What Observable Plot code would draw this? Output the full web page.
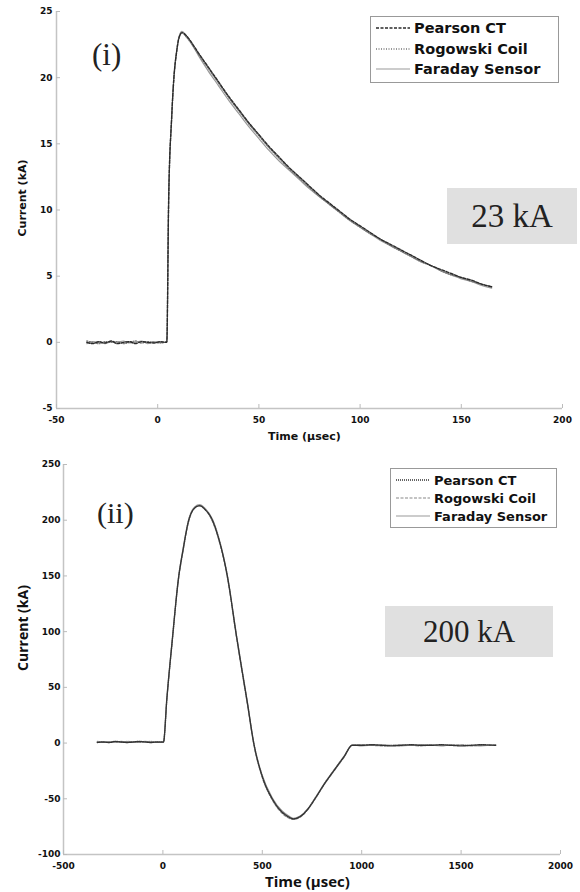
<!DOCTYPE html>
<html><head><meta charset="utf-8">
<script src="https://cdn.jsdelivr.net/npm/d3@7"></script>
<script src="https://cdn.jsdelivr.net/npm/@observablehq/plot@0.6"></script>
<style>
body{margin:0;background:#fff;}
#wrap{position:relative;width:580px;height:892px;overflow:hidden;font-family:"DejaVu Sans",sans-serif;}
.panel{position:absolute;left:0;}
.ov{position:absolute;white-space:nowrap;color:#111;}
.legend{position:absolute;border:1px solid #999;background:#fff;}
.row{position:absolute;left:0;display:flex;align-items:center;font-weight:bold;color:#111;}
.row svg{margin-right:4px;}
.box{position:absolute;background:#e0e0e0;display:flex;align-items:center;justify-content:center;font-family:"Liberation Serif",serif;color:#222;}
.tag{position:absolute;font-family:"Liberation Serif",serif;color:#222;}
</style></head><body><div id="wrap"></div>
<script>
// ---------- Panel (i) : 23 kA ----------
const xTicks1 = [-50, 0, 50, 100, 150, 200];
const yTicks1 = [-5, 0, 5, 10, 15, 20, 25];
const t1 = [-35,-32,-29,-26,-23,-20,-17,-14,-11,-8,-5,-2,1,4.5,5.4,6.9,8,9.4,10.5,12,14,17,20,25,30,35,40,45,50,55,60,65,70,75,80,85,90,95,100,105,110,115,120,125,130,135,140,145,150,155,160,165];
const pearson1 = [0.0,-0.1,0.05,-0.05,0.1,-0.1,0.0,0.05,-0.1,0.05,0.0,-0.05,0.05,0.0,10.7,17.0,20.0,22.0,23.0,23.4,23.2,22.6,21.9,20.8,19.7,18.6,17.6,16.6,15.7,14.8,14.0,13.2,12.5,11.8,11.1,10.5,9.9,9.3,8.8,8.3,7.8,7.4,7.0,6.6,6.2,5.8,5.5,5.2,4.9,4.7,4.4,4.2];
const rogowski1 = [0.1,0.0,-0.1,0.05,0.0,0.05,-0.1,0.0,0.1,-0.05,0.05,0.0,-0.05,0.05,10.5,16.9,19.9,22.0,23.0,23.4,23.1,22.5,21.8,20.7,19.6,18.5,17.5,16.5,15.6,14.7,13.9,13.1,12.4,11.7,11.0,10.4,9.8,9.2,8.7,8.2,7.8,7.3,6.9,6.5,6.1,5.8,5.4,5.1,4.9,4.6,4.4,4.2];
const faraday1 = [-0.1,0.05,0.0,-0.1,0.05,0.0,0.1,-0.05,0.0,0.1,-0.1,0.05,0.0,0.0,10.6,17.0,20.1,22.1,23.1,23.5,23.2,22.5,21.7,20.5,19.4,18.3,17.3,16.3,15.4,14.5,13.7,13.0,12.3,11.6,11.0,10.4,9.8,9.2,8.7,8.2,7.7,7.3,6.9,6.5,6.1,5.8,5.4,5.1,4.8,4.6,4.3,4.1];

// ---------- Panel (ii) : 200 kA ----------
const xTicks2 = [-500, 0, 500, 1000, 1500, 2000];
const yTicks2 = [-100, -50, 0, 50, 100, 150, 200, 250];
const t2 = [-330,-300,-270,-240,-210,-180,-150,-120,-90,-60,-30,0,3,20,47,80,100,130,160,185,210,249,280,324,371,400,425,457,500,550,600,630,657,690,730,770,809,869,910,953,1000,1050,1100,1150,1200,1250,1300,1350,1400,1450,1500,1550,1600,1674];
const pearson2 = [0.5,1,0.5,1.5,1,0.5,1,1.5,1,0.5,1,1,1,40,92,150,172,200,211,213,210,200,184,150,95,63,36,0,-30,-50,-62,-66,-68,-66,-59,-48.5,-37.5,-22.5,-12.5,-2,-2,-1.5,-2,-2.5,-2,-1.5,-2,-2,-1.5,-2,-2.5,-2,-1.5,-2];
const rogowski2 = [1,0.5,1,1,0.5,1.5,1,0.5,1,1.5,0.5,1,1,39,91,149,171,199,211,213,210,199,183,149,94,62,35,-1,-31,-51,-63,-67,-68.5,-66.5,-59.5,-49,-38,-23,-13,-2,-1.5,-2,-2.5,-2,-1.5,-2,-2.5,-1.5,-2,-2,-1.5,-2.5,-2,-2];
const faraday2 = [1.5,1,1,0.5,1.5,1,0.5,1,1.5,1,1,0.5,1,41,93,151,173,201,212,214,211,201,185,151,96,64,37,0,-29,-49,-61,-65,-67.5,-65.5,-58.5,-48,-37,-22,-12,-1.5,-2.5,-2,-1.5,-2,-2.5,-2,-1.5,-2,-2.5,-1.5,-2,-2,-2.5,-1.5];

const series1 = [
  {name:"Faraday Sensor", v:faraday1, stroke:"#9a9a9a", dash:null, w:1.2},
  {name:"Rogowski Coil", v:rogowski1, stroke:"#777", dash:"1,1.5", w:1.3},
  {name:"Pearson CT", v:pearson1, stroke:"#2a2a2a", dash:"3,1.5", w:1.4}
];
const series2 = [
  {name:"Faraday Sensor", v:faraday2, stroke:"#9a9a9a", dash:null, w:1.2},
  {name:"Rogowski Coil", v:rogowski2, stroke:"#888", dash:"3,1.5", w:1.2},
  {name:"Pearson CT", v:pearson2, stroke:"#333", dash:"1,1", w:1.4}
];

const fmt = d => String(d);
const wrap = document.getElementById("wrap");

function panel(top, t, series, xd, yd, xt, yt, m){
  const marks = [
    Plot.ruleX([xd[0]], {stroke:"#c4c4c4", strokeWidth:1.5}),
    Plot.ruleY([yd[0]], {stroke:"#c4c4c4", strokeWidth:1.5}),
    Plot.axisX(xt, {tickSize:-4, tickPadding:12, tickFormat:fmt, stroke:"#bbb", fill:"#111", label:null, fontSize:9, fontWeight:"bold"}),
    Plot.axisY(yt, {tickSize:-4, tickPadding:m.yPad, tickFormat:fmt, stroke:"#bbb", fill:"#111", label:null, fontSize:9, fontWeight:"bold"})
  ];
  for (const s of series) {
    const data = t.map((x,i)=>({x, y:s.v[i]}));
    marks.push(Plot.line(data, {x:"x", y:"y", stroke:s.stroke, strokeWidth:s.w, strokeDasharray:s.dash, curve:"monotone-x"}));
  }
  const svg = Plot.plot({
    width:580, height:446,
    marginLeft:m.l, marginRight:m.r, marginTop:m.t, marginBottom:m.b,
    x:{domain:xd}, y:{domain:yd},
    style:{fontFamily:"DejaVu Sans", fontSize:"9px", background:"transparent", overflow:"visible"},
    marks
  });
  svg.classList.add("panel");
  svg.style.top = top + "px";
  wrap.appendChild(svg);
}

panel(0, t1, series1, [-50,200], [-5,25], xTicks1, yTicks1, {l:56, r:18, t:11, b:38, yPad:8});
panel(446, t2, series2, [-500,2000], [-100,250], xTicks2, yTicks2, {l:63, r:20, t:18, b:38, yPad:7});

function addDiv(cls, css, html){
  const d = document.createElement("div");
  d.className = cls; d.style.cssText = css; d.innerHTML = html; wrap.appendChild(d); return d;
}
// axis titles
addDiv("ov", "left:268px;top:430px;font-size:11px;font-weight:bold;", "Time (μsec)");
addDiv("ov", "top:198px;left:22px;font-size:11px;font-weight:bold;transform:translate(-50%,-50%) rotate(-90deg);", "Current (kA)");
addDiv("ov", "left:265px;top:871px;font-size:15px;font-weight:bold;font-family:'Open Sans',sans-serif;", "Time (μsec)");
addDiv("ov", "top:628px;left:22px;font-size:14px;font-weight:bold;font-family:'Open Sans',sans-serif;transform:translate(-50%,-50%) rotate(-90deg);", "Current (kA)");

// panel tags and boxes
addDiv("tag", "left:92px;top:37px;font-size:31px;", "(i)");
addDiv("tag", "left:97px;top:496px;font-size:30px;", "(ii)");
addDiv("box", "left:447px;top:188px;width:130px;height:56px;font-size:33px;", "23 kA");
addDiv("box", "left:385px;top:606px;width:168px;height:51px;font-size:31px;", "200 kA");

// legends
function legend(left, top, w, h, rows, fs, lineW){
  const L = addDiv("legend", `left:${left}px;top:${top}px;width:${w}px;height:${h}px;`, "");
  rows.forEach(r=>{
    const row = document.createElement("div");
    row.className = "row";
    row.style.cssText = `left:5px;top:${r.y - top - 10}px;height:20px;font-size:${fs}px;`;
    row.innerHTML = `<svg width="${lineW}" height="6"><line x1="0" x2="${lineW}" y1="3" y2="3" stroke="${r.s.stroke}" stroke-width="${r.s.w}" ${r.s.dash?`stroke-dasharray="${r.s.dash}"`:""}/></svg><span>${r.s.name}</span>`;
    L.appendChild(row);
  });
}
legend(370, 16, 187, 65, [{y:27, s:series1[2]}, {y:48, s:series1[1]}, {y:68, s:series1[0]}], 14.5, 34);
legend(390, 468, 165, 58, [{y:479, s:series2[2]}, {y:497, s:series2[1]}, {y:515, s:series2[0]}], 13, 34);
</script></body></html>
